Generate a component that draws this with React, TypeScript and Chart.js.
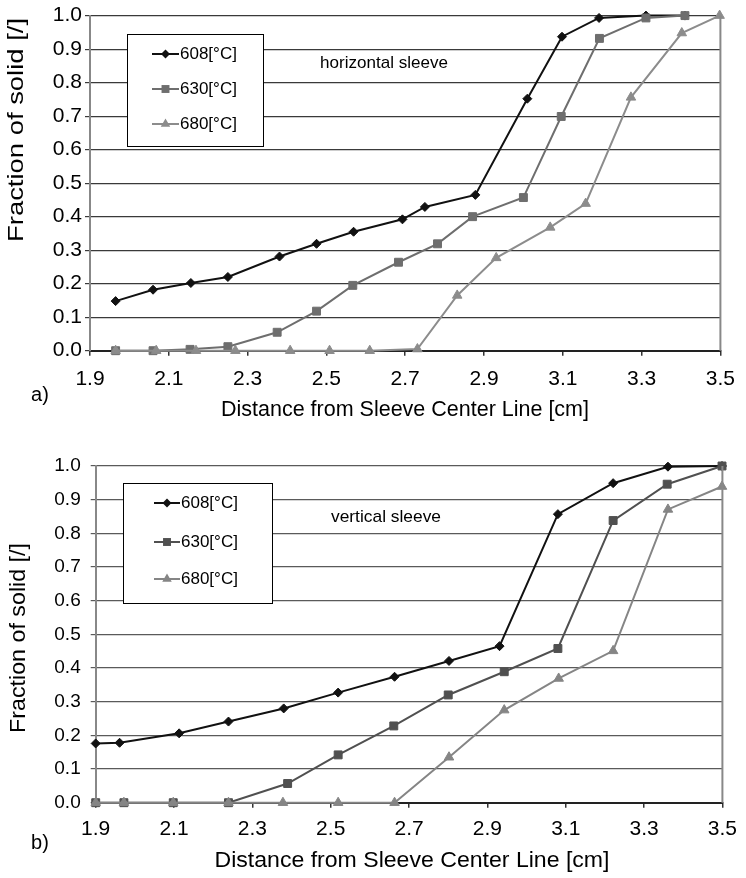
import React, { useEffect, useRef } from 'react';
import { Chart, registerables } from 'chart.js';
Chart.register(...registerables);

const FONT = '"Liberation Sans", Arial, sans-serif';

const xTicks = [1.9, 2.1, 2.3, 2.5, 2.7, 2.9, 3.1, 3.3, 3.5];
const yTicks = [0, 0.1, 0.2, 0.3, 0.4, 0.5, 0.6, 0.7, 0.8, 0.9, 1.0];
const seriesNames = ['608[°C]', '630[°C]', '680[°C]'];
const xTitle = 'Distance from Sleeve Center Line [cm]';
const yTitle = 'Fraction of solid [/]';

// a) horizontal sleeve
const topX608 = [1.965, 2.06, 2.156, 2.25, 2.381, 2.475, 2.569, 2.693, 2.75, 2.878, 3.01, 3.098, 3.192, 3.311, 3.41];
const topY608 = [0.148, 0.182, 0.202, 0.22, 0.281, 0.319, 0.355, 0.392, 0.429, 0.465, 0.752, 0.937, 0.993, 1.0, 1.0];
const topX630 = [1.965, 2.06, 2.154, 2.25, 2.375, 2.475, 2.567, 2.683, 2.782, 2.871, 3.0, 3.096, 3.193, 3.311, 3.41];
const topY630 = [0, 0, 0.004, 0.012, 0.055, 0.118, 0.195, 0.264, 0.319, 0.4, 0.457, 0.699, 0.932, 0.993, 1.0];
const topX680 = [1.965, 2.068, 2.169, 2.269, 2.408, 2.508, 2.61, 2.731, 2.832, 2.931, 3.068, 3.158, 3.273, 3.402, 3.498];
const topY680 = [0, 0, 0, 0, 0, 0, 0, 0.005, 0.165, 0.277, 0.368, 0.439, 0.756, 0.948, 1.0];

// b) vertical sleeve
const botX608 = [1.9, 1.961, 2.113, 2.239, 2.38, 2.519, 2.663, 2.802, 2.931, 3.08, 3.221, 3.361, 3.499];
const botY608 = [0.176, 0.178, 0.206, 0.241, 0.28, 0.327, 0.374, 0.421, 0.465, 0.857, 0.949, 0.998, 1.0];
const botX630 = [1.9, 1.972, 2.098, 2.239, 2.39, 2.519, 2.661, 2.8, 2.943, 3.08, 3.221, 3.359, 3.499];
const botY630 = [0, 0, 0, 0, 0.057, 0.142, 0.228, 0.32, 0.389, 0.458, 0.838, 0.946, 1.0];
const botX680 = [1.9, 1.972, 2.098, 2.239, 2.378, 2.519, 2.663, 2.802, 2.943, 3.082, 3.221, 3.361, 3.499];
const botY680 = [0, 0, 0, 0, 0, 0, 0, 0.135, 0.275, 0.369, 0.451, 0.871, 0.939];

type Spec = {
  w: number; h: number; left: number; right: number; top: number; bottom: number;
  xs: number[][]; ys: number[][]; colors: string[];
  grid: string; yTickSize: number; xTickSize: number; yPad: number; xPad: number;
  legendBox: [number, number, number, number]; legendLine: [number, number]; legendRows: number[];
  note: string; noteX: number; noteY: number; noteW: number;
  xTitleCx: number; xTitleCy: number; xTitleW: number;
  yTitleCx: number; yTitleCy: number; yTitleW: number;
  tag: string; tagX: number; tagY: number;
};

const styles = ['rectRot', 'rect', 'triangle'];
const radii = [4.5, 5.6, 5.5];

function stretchText(ctx: CanvasRenderingContext2D, text: string, cx: number, cy: number, size: number, targetW: number, rot = 0) {
  ctx.save();
  ctx.font = `${size}px ${FONT}`;
  const w = ctx.measureText(text).width;
  ctx.translate(cx, cy);
  if (rot) ctx.rotate(rot);
  ctx.scale(targetW / w, 1);
  ctx.textAlign = 'center';
  ctx.textBaseline = 'middle';
  ctx.fillStyle = '#000';
  ctx.fillText(text, 0, 0);
  ctx.restore();
}

function drawMarker(ctx: CanvasRenderingContext2D, style: string, x: number, y: number, r: number, color: string) {
  ctx.save();
  ctx.fillStyle = color;
  ctx.strokeStyle = color;
  ctx.beginPath();
  if (style === 'rectRot') {
    ctx.moveTo(x, y - r); ctx.lineTo(x + r, y); ctx.lineTo(x, y + r); ctx.lineTo(x - r, y);
  } else if (style === 'rect') {
    const s = r * Math.SQRT1_2;
    ctx.rect(x - s, y - s, 2 * s, 2 * s);
  } else {
    const rad = Math.PI / 2;
    ctx.moveTo(x, y - r);
    ctx.lineTo(x + Math.cos(rad - 2 * Math.PI / 3 + Math.PI) * -r, y + r * 0.5);
    ctx.lineTo(x - Math.cos(Math.PI / 6) * r, y + r * 0.5);
    ctx.moveTo(x, y - r);
    ctx.lineTo(x + Math.cos(Math.PI / 6) * r, y + r * 0.5);
    ctx.lineTo(x - Math.cos(Math.PI / 6) * r, y + r * 0.5);
  }
  ctx.closePath();
  ctx.fill();
  ctx.restore();
}

function ChartPanel({ spec }: { spec: Spec }) {
  const ref = useRef<HTMLCanvasElement | null>(null);
  useEffect(() => {
    if (!ref.current) return;
    const overlay = {
      id: 'overlay',
      afterDraw(chart: any) {
        const ctx: CanvasRenderingContext2D = chart.ctx;
        const ca = chart.chartArea;
        // right border
        ctx.save();
        ctx.strokeStyle = '#888';
        ctx.lineWidth = 2;
        ctx.beginPath();
        ctx.moveTo(ca.right, ca.top);
        ctx.lineTo(ca.right, ca.bottom);
        ctx.stroke();
        ctx.restore();
        // legend box
        const [bx1, by1, bx2, by2] = spec.legendBox;
        ctx.save();
        ctx.fillStyle = '#fff';
        ctx.fillRect(bx1, by1, bx2 - bx1, by2 - by1);
        ctx.strokeStyle = '#000';
        ctx.lineWidth = 1;
        ctx.strokeRect(bx1 + 0.5, by1 + 0.5, bx2 - bx1, by2 - by1);
        ctx.restore();
        spec.legendRows.forEach((ry, i) => {
          const [lx1, lx2] = spec.legendLine;
          ctx.save();
          ctx.strokeStyle = spec.colors[i];
          ctx.lineWidth = 2;
          ctx.beginPath();
          ctx.moveTo(lx1, ry);
          ctx.lineTo(lx2, ry);
          ctx.stroke();
          ctx.restore();
          drawMarker(ctx, styles[i], (lx1 + lx2) / 2, ry, radii[i], spec.colors[i]);
          ctx.save();
          ctx.font = `17px ${FONT}`;
          ctx.fillStyle = '#000';
          ctx.textAlign = 'left';
          ctx.textBaseline = 'middle';
          ctx.fillText(seriesNames[i], lx2 + 1, ry);
          ctx.restore();
        });
        // annotation
        ctx.save();
        ctx.font = `17px ${FONT}`;
        const nw = ctx.measureText(spec.note).width;
        ctx.restore();
        stretchText(ctx, spec.note, spec.noteX + spec.noteW / 2, spec.noteY, 17, spec.noteW || nw);
        // axis titles
        stretchText(ctx, xTitle, spec.xTitleCx, spec.xTitleCy, 22, spec.xTitleW);
        stretchText(ctx, yTitle, spec.yTitleCx, spec.yTitleCy, 22, spec.yTitleW, -Math.PI / 2);
        // tag
        ctx.save();
        ctx.font = `20px ${FONT}`;
        ctx.fillStyle = '#000';
        ctx.textAlign = 'center';
        ctx.textBaseline = 'middle';
        ctx.fillText(spec.tag, spec.tagX, spec.tagY);
        ctx.restore();
      },
    };

    const datasets = spec.xs.map((xs, i) => ({
      label: seriesNames[i],
      data: xs.map((x, j) => ({ x, y: spec.ys[i][j] })),
      borderColor: spec.colors[i],
      backgroundColor: spec.colors[i],
      pointBackgroundColor: spec.colors[i],
      pointBorderColor: spec.colors[i],
      pointStyle: styles[i] as any,
      pointRadius: radii[i],
      pointBorderWidth: 1,
      borderWidth: 2,
      tension: 0,
      clip: false as any,
    })).reverse();

    const chart = new Chart(ref.current, {
      type: 'line',
      data: { datasets },
      options: {
        responsive: false,
        animation: false,
        devicePixelRatio: 1,
        layout: { padding: { left: 0, top: spec.top, right: spec.w - spec.right, bottom: 0 } },
        plugins: { legend: { display: false }, tooltip: { enabled: false } },
        scales: {
          x: {
            type: 'linear',
            min: 1.9,
            max: 3.5,
            afterBuildTicks: (s: any) => { s.ticks = xTicks.map((v) => ({ value: v })); },
            afterFit: (s: any) => { s.height = spec.h - spec.bottom; },
            ticks: {
              color: '#000',
              font: { family: FONT, size: spec.xTickSize },
              padding: spec.xPad,
              maxRotation: 0,
              autoSkip: false,
              callback: (v: any) => Number(v).toFixed(1),
            },
            grid: { drawOnChartArea: false, drawTicks: true, tickLength: 5, color: '#333', lineWidth: 1.5 },
            border: { display: true, color: '#222', width: 2 },
          },
          y: {
            type: 'linear',
            min: 0,
            max: 1,
            afterBuildTicks: (s: any) => { s.ticks = yTicks.map((v) => ({ value: v })); },
            afterFit: (s: any) => { s.width = spec.left; },
            ticks: {
              color: '#000',
              font: { family: FONT, size: spec.yTickSize },
              padding: spec.yPad,
              autoSkip: false,
              callback: (v: any) => Number(v).toFixed(1),
            },
            grid: { drawTicks: true, tickLength: 5, color: spec.grid, lineWidth: 1.2 },
            border: { display: true, color: '#888', width: 2 },
          },
        },
      },
      plugins: [overlay],
    } as any);
    return () => chart.destroy();
  }, [spec]);
  return <canvas ref={ref} width={spec.w} height={spec.h} style={{ display: 'block', width: spec.w, height: spec.h }} />;
}

const topSpec: Spec = {
  w: 746, h: 440, left: 90, right: 730, top: 13, bottom: 350.7,
  xs: [topX608, topX630, topX680], ys: [topY608, topY630, topY680],
  colors: ['#111111', '#6e6e6e', '#8c8c8c'],
  grid: '#3a3a3a', yTickSize: 21, xTickSize: 21, yPad: 3, xPad: 11,
  legendBox: [127, 34, 263, 146], legendLine: [152, 179], legendRows: [54, 89, 124],
  note: 'horizontal sleeve', noteX: 320, noteY: 63, noteW: 128,
  xTitleCx: 405, xTitleCy: 410, xTitleW: 368,
  yTitleCx: 17, yTitleCy: 130, yTitleW: 224,
  tag: 'a)', tagX: 40, tagY: 395,
};

const botSpec: Spec = {
  w: 746, h: 438, left: 95.7, right: 730, top: 26, bottom: 362.7,
  xs: [botX608, botX630, botX680], ys: [botY608, botY630, botY680],
  colors: ['#111111', '#505050', '#858585'],
  grid: '#5a5a5a', yTickSize: 19, xTickSize: 21, yPad: 10, xPad: 9,
  legendBox: [123, 43, 272, 163], legendLine: [154, 180], legendRows: [63, 102, 139],
  note: 'vertical sleeve', noteX: 331, noteY: 77, noteW: 110,
  xTitleCx: 412, xTitleCy: 421, xTitleW: 395,
  yTitleCx: 19, yTitleCy: 198, yTitleW: 190,
  tag: 'b)', tagX: 40, tagY: 403,
};

export default function App() {
  return (
    <div style={{ position: 'absolute', left: 0, top: 0, width: 746, height: 878, background: '#fff' }}>
      <ChartPanel spec={topSpec} />
      <ChartPanel spec={botSpec} />
    </div>
  );
}
